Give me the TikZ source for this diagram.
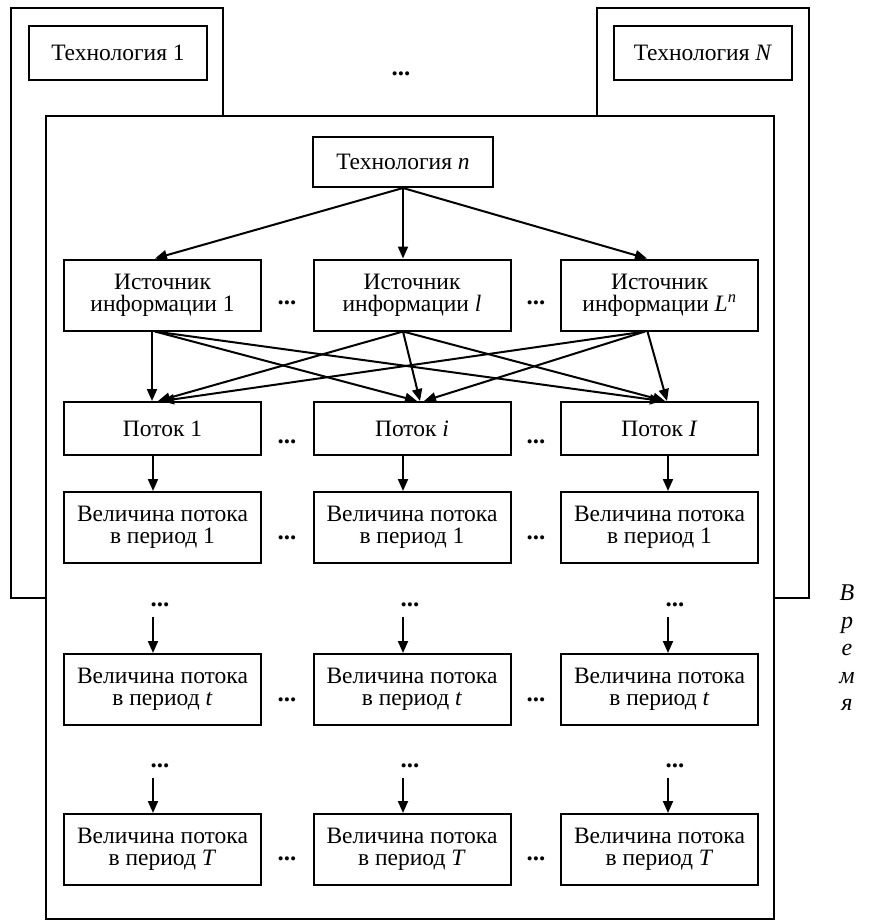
\documentclass[tikz,border=0pt]{standalone}
\usepackage{fontspec}
\setmainfont{Liberation Serif}
\usetikzlibrary{arrows.meta,calc}
\begin{document}
\begin{tikzpicture}[x=1pt,y=-1pt,
  lw/.style={line width=2pt},
  box/.style={draw, lw, fill=white, align=center, inner sep=0pt, minimum width=197pt, minimum height=71pt, font=\fontsize{23.5}{22}\selectfont},
  flowbox/.style={box, minimum height=53pt},
  frame/.style={draw, lw, fill=white, inner sep=0pt},
  arr/.style={lw, -{Triangle[length=12pt,width=10pt]}},
  dotsn/.style={font=\fontsize{25}{22}\selectfont\bfseries, inner sep=0pt}]
\useasboundingbox (0,0) rectangle (873,923);
% back frames
\node[frame, minimum width=212pt, minimum height=590pt] (fr1) at (117,303) {};
\node[frame, minimum width=212pt, minimum height=590pt] (frN) at (703,303) {};
\node[frame, minimum width=728pt, minimum height=803pt] (main) at (410,517.5) {};
% technologies
\node[box, minimum width=178pt, minimum height=54pt] (t1) at (118,53) {Технология 1};
\node[box, minimum width=178pt, minimum height=54pt] (tN) at (703,53) {Технология \textit{N}};
\node[dotsn] (topdots) at (401,74) {...};
\node[box, minimum width=180pt, minimum height=50pt] (tn) at (403,162) {Технология \textit{n}};
% sources
\node[box] (s1) at (162.5,295) {Источник\\информации 1};
\node[box] (s2) at (412,295) {Источник\\информации \textit{l}};
\node[box] (s3) at (659.5,295) {Источник\\информации \textit{L}\textsuperscript{\textit{n}}};
\node[dotsn] (sd1) at (287,303) {...};
\node[dotsn] (sd2) at (536,303) {...};
% flows
\node[flowbox] (f1) at (162.5,428.5) {Поток 1};
\node[flowbox] (fi) at (412,428.5) {Поток \textit{i}};
\node[flowbox] (fI) at (659.5,428.5) {Поток \textit{I}};
\node[dotsn] (fd1) at (287,442) {...};
\node[dotsn] (fd2) at (536,442) {...};
% period 1
\node[box] (p11) at (162.5,527.5) {Величина потока\\в период 1};
\node[box] (p12) at (412,527.5) {Величина потока\\в период 1};
\node[box] (p13) at (659.5,527.5) {Величина потока\\в период 1};
\node[dotsn] (pd11) at (287,538) {...};
\node[dotsn] (pd12) at (536,538) {...};
% vertical dots 1
\node[dotsn] (vd11) at (160,605) {...};
\node[dotsn] (vd12) at (410,605) {...};
\node[dotsn] (vd13) at (675,605) {...};
% period t
\node[box] (pt1) at (162.5,689.5) {Величина потока\\в период \textit{t}};
\node[box] (pt2) at (412,689.5) {Величина потока\\в период \textit{t}};
\node[box] (pt3) at (659.5,689.5) {Величина потока\\в период \textit{t}};
\node[dotsn] (ptd1) at (287,700) {...};
\node[dotsn] (ptd2) at (536,700) {...};
% vertical dots 2
\node[dotsn] (vd21) at (160,766) {...};
\node[dotsn] (vd22) at (410,766) {...};
\node[dotsn] (vd23) at (675,766) {...};
% period T
\node[box] (pT1) at (162.5,849.5) {Величина потока\\в период \textit{T}};
\node[box] (pT2) at (412,849.5) {Величина потока\\в период \textit{T}};
\node[box] (pT3) at (659.5,849.5) {Величина потока\\в период \textit{T}};
\node[dotsn] (pTd1) at (287,859) {...};
\node[dotsn] (pTd2) at (536,859) {...};
% time label
\node[font=\fontsize{24}{27.5}\selectfont\itshape, align=center, inner sep=0pt] (vr) at (847,648) {В\\р\\е\\м\\я};
% arrows: technology n -> sources
\draw[arr] (tn.south) -- ($(s1.north)+(-7.5,0)$);
\draw[arr] (tn.south) -- ($(s2.north)+(-9,0)$);
\draw[arr] (tn.south) -- ($(s3.north)+(-12.5,0)$);
% sources -> flows
\draw[arr] ($(s1.south)+(-10.5,0)$) -- ($(f1.north)+(-10.5,0)$);
\draw[arr] ($(s1.south)+(-7.5,0)$) -- ($(fi.north)+(5,0)$);
\draw[arr] ($(s1.south)+(-7.5,0)$) -- ($(fI.north)+(2.5,0)$);
\draw[arr] ($(s2.south)+(-9,0)$) -- ($(f1.north)+(-4.5,0)$);
\draw[arr] ($(s2.south)+(-9,0)$) -- ($(fi.north)+(8,0)$);
\draw[arr] ($(s2.south)+(-9,0)$) -- ($(fI.north)+(5.5,0)$);
\draw[arr] ($(s3.south)+(-14.5,0)$) -- ($(f1.north)+(-0.5,0)$);
\draw[arr] ($(s3.south)+(-14.5,0)$) -- ($(fi.north)+(12,0)$);
\draw[arr] ($(s3.south)+(-12,0)$) -- ($(fI.north)+(7.5,0)$);
% flows -> period 1
\draw[arr] ($(f1.south)+(-9.5,0)$) -- ($(p11.north)+(-9.5,0)$);
\draw[arr] ($(fi.south)+(-9,0)$) -- ($(p12.north)+(-9,0)$);
\draw[arr] ($(fI.south)+(8.5,0)$) -- ($(p13.north)+(8.5,0)$);
% dots -> period t
\draw[arr] ($(vd11.south)+(-7,10)$) -- ($(pt1.north)+(-9.5,0)$);
\draw[arr] ($(vd12.south)+(-7,10)$) -- ($(pt2.north)+(-9,0)$);
\draw[arr] ($(vd13.south)+(-7,10)$) -- ($(pt3.north)+(8.5,0)$);
% dots -> period T
\draw[arr] ($(vd21.south)+(-7,10)$) -- ($(pT1.north)+(-9.5,0)$);
\draw[arr] ($(vd22.south)+(-7,10)$) -- ($(pT2.north)+(-9,0)$);
\draw[arr] ($(vd23.south)+(-7,10)$) -- ($(pT3.north)+(8.5,0)$);
\end{tikzpicture}
\end{document}
